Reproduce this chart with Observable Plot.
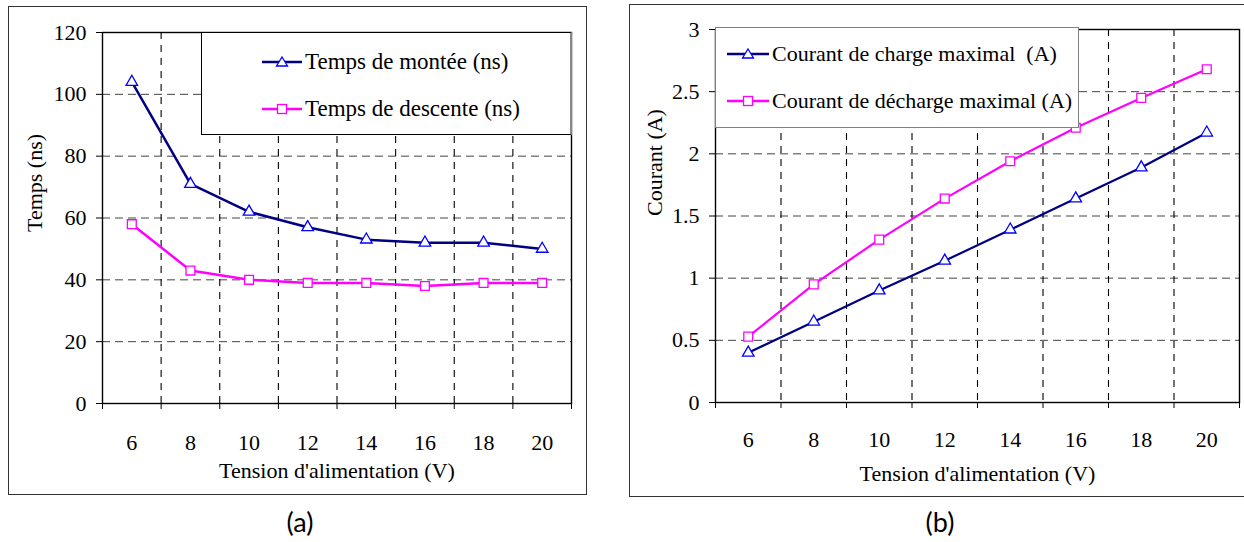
<!DOCTYPE html>
<html>
<head>
<meta charset="utf-8">
<script src="https://cdn.jsdelivr.net/npm/d3@7"></script>
<script src="https://cdn.jsdelivr.net/npm/@observablehq/plot@0.6"></script>
<style>
  html, body { margin: 0; padding: 0; background: #fff; }
  #page { position: relative; width: 1244px; height: 542px; overflow: hidden; background: #fff; font-family: "Liberation Serif", serif; }
  .frame { position: absolute; border: 1.5px solid #333; box-sizing: border-box; }
  .chart { position: absolute; }
  .legend { position: absolute; background: #fff; box-sizing: border-box; z-index: 2; }
  .entry { position: absolute; display: flex; align-items: center; font-size: 22px; white-space: pre; color: #000; }
  .entry svg { margin-right: 3px; }
  .caption { position: absolute; font-family: Lato, "Open Sans", sans-serif; font-size: 27px; transform: translate(-50%, -50%); color: #000; }
</style>
</head>
<body>
<div id="page">
  <div class="frame" style="left:8px; top:6px; width:579px; height:489px;"></div>
  <div class="frame" style="left:629px; top:4px; width:620px; height:493px;"></div>
  <div id="chartA" class="chart" style="left:9px; top:7px;"></div>
  <div id="chartB" class="chart" style="left:630px; top:5px;"></div>
  <div id="legendA" class="legend" style="left:201px; top:32px; width:371px; height:103px; border:1px solid #000; border-right:2px solid #888;"></div>
  <div id="legendB" class="legend" style="left:715px; top:27px; width:364px; height:101px; border:1px solid #808080;"></div>
  <div class="caption" style="left:300px; top:521px;">(a)</div>
  <div class="caption" style="left:940px; top:521px;">(b)</div>
</div>
<script>
// ---- data ----
const voltages = [6, 8, 10, 12, 14, 16, 18, 20];
const riseTime = [104, 71, 62, 57, 53, 52, 52, 50];
const fallTime = [58, 43, 40, 39, 39, 38, 39, 39];
const chargeCurrent = [0.40, 0.65, 0.90, 1.14, 1.39, 1.64, 1.89, 2.17];
const dischargeCurrent = [0.53, 0.95, 1.31, 1.64, 1.94, 2.21, 2.45, 2.68];
const yTicksTime = [0, 20, 40, 60, 80, 100, 120];
const yTicksCurrent = [0, 0.5, 1, 1.5, 2, 2.5, 3];
const xLabel = "Tension d'alimentation (V)";
const yLabelTime = "Temps (ns)";
const yLabelCurrent = "Courant (A)";
const seriesNamesA = ["Temps de montée (ns)", "Temps de descente (ns)"];
const seriesNamesB = ["Courant de charge maximal  (A)", "Courant de décharge maximal (A)"];

// category boundaries (Excel-like category axis)
const edges = voltages.map(v => v - 1).concat([voltages[voltages.length - 1] + 1]);
const innerEdges = edges.slice(1, -1);

const NAVY = "#000080", BLUE = "#0000FF", MAGENTA = "#FF00FF";
const FONT = "Liberation Serif";

function makeChart(cfg) {
  const table = voltages.map((v, i) => ({v, a: cfg.s1[i], b: cfg.s2[i]}));
  const yMax = cfg.yTicks[cfg.yTicks.length - 1];
  return Plot.plot({
    width: cfg.width,
    height: cfg.height,
    marginLeft: cfg.ml, marginRight: cfg.mr, marginTop: cfg.mt, marginBottom: cfg.mb,
    style: {fontFamily: FONT, fontSize: "22px", background: "transparent", overflow: "visible", color: "#000"},
    x: {domain: [edges[0], edges[edges.length - 1]], label: null},
    y: {domain: [0, yMax], label: null},
    marks: [
      Plot.ruleY(cfg.yTicks.filter(t => t > 0 && t < yMax), {stroke: "#444", strokeDasharray: "8,5", strokeWidth: 1}),
      Plot.ruleX(innerEdges, {stroke: "#000", strokeDasharray: "7,6", strokeWidth: 1.1}),
      Plot.frame({stroke: "#000", strokeWidth: 1.4}),
      Plot.axisX({ticks: edges, tickSize: 6, tickFormat: () => "", label: null}),
      Plot.axisX({ticks: voltages, tickSize: 0, tickPadding: cfg.xPad, tickFormat: d => String(d), label: null, fontSize: 22}),
      Plot.axisY({ticks: cfg.yTicks, tickSize: 6, tickPadding: 10, tickFormat: d => String(d), label: null, fontSize: 22}),
      Plot.line(table, {x: "v", y: "b", stroke: MAGENTA, strokeWidth: cfg.lw}),
      Plot.line(table, {x: "v", y: "a", stroke: NAVY, strokeWidth: cfg.lw}),
      Plot.dot(table, {x: "v", y: "b", symbol: "square", r: 5, stroke: MAGENTA, fill: "white", strokeWidth: 1.3}),
      Plot.dot(table, {x: "v", y: "a", symbol: "triangle", r: 4.3, stroke: BLUE, fill: "white", strokeWidth: 1.3}),
      Plot.text([xLabel], {text: d => d, frameAnchor: "bottom", dy: cfg.xLabelDy, lineAnchor: "middle", fontSize: 22, fill: "#000"}),
      Plot.text([cfg.yLabel], {text: d => d, frameAnchor: "left", dx: cfg.yLabelDx, dy: cfg.yLabelDy, rotate: -90, lineAnchor: "middle", fontSize: 22, fill: "#000"})
    ]
  });
}

document.getElementById("chartA").append(makeChart({
  width: 577, height: 487, ml: 93, mr: 15, mt: 25, mb: 91,
  yTicks: yTicksTime, s1: riseTime, s2: fallTime,
  xPad: 31, xLabelDy: 67, yLabel: yLabelTime, yLabelDx: -68, yLabelDy: 14, lw: 2.5
}));

document.getElementById("chartB").append(makeChart({
  width: 614, height: 491, ml: 85, mr: 5, mt: 24, mb: 94,
  yTicks: yTicksCurrent, s1: chargeCurrent, s2: dischargeCurrent,
  xPad: 29, xLabelDy: 71, yLabel: yLabelCurrent, yLabelDx: -61, yLabelDy: 0, lw: 2.2
}));

function sample(kind, lineColor, markColor, w) {
  const ns = "http://www.w3.org/2000/svg";
  const svg = document.createElementNS(ns, "svg");
  svg.setAttribute("width", w); svg.setAttribute("height", 14);
  const line = document.createElementNS(ns, "line");
  line.setAttribute("x1", 0); line.setAttribute("x2", w);
  line.setAttribute("y1", 7); line.setAttribute("y2", 7);
  line.setAttribute("stroke", lineColor); line.setAttribute("stroke-width", 2.5);
  svg.append(line);
  const cx = w / 2;
  let m;
  if (kind === "triangle") {
    m = document.createElementNS(ns, "path");
    m.setAttribute("d", `M${cx},2 L${cx + 5.5},11 L${cx - 5.5},11 Z`);
  } else {
    m = document.createElementNS(ns, "rect");
    m.setAttribute("x", cx - 4.5); m.setAttribute("y", 2.5);
    m.setAttribute("width", 9); m.setAttribute("height", 9);
  }
  m.setAttribute("fill", "white"); m.setAttribute("stroke", markColor); m.setAttribute("stroke-width", 1.3);
  svg.append(m);
  return svg;
}

function addEntry(host, left, top, kind, lineColor, markColor, w, text, size) {
  const e = document.createElement("div");
  e.className = "entry";
  e.style.left = left + "px"; e.style.top = top + "px"; e.style.height = "26px";
  e.style.fontSize = size + "px";
  e.append(sample(kind, lineColor, markColor, w));
  const s = document.createElement("span");
  s.textContent = text;
  e.append(s);
  host.append(e);
}

const lA = document.getElementById("legendA");
addEntry(lA, 60, 16, "triangle", NAVY, BLUE, 40, seriesNamesA[0], 23);
addEntry(lA, 60, 63, "square", MAGENTA, MAGENTA, 40, seriesNamesA[1], 23);
const lB = document.getElementById("legendB");
addEntry(lB, 11, 13, "triangle", NAVY, BLUE, 42, seriesNamesB[0], 22);
addEntry(lB, 11, 60, "square", MAGENTA, MAGENTA, 42, seriesNamesB[1], 22);
</script>
</body>
</html>
